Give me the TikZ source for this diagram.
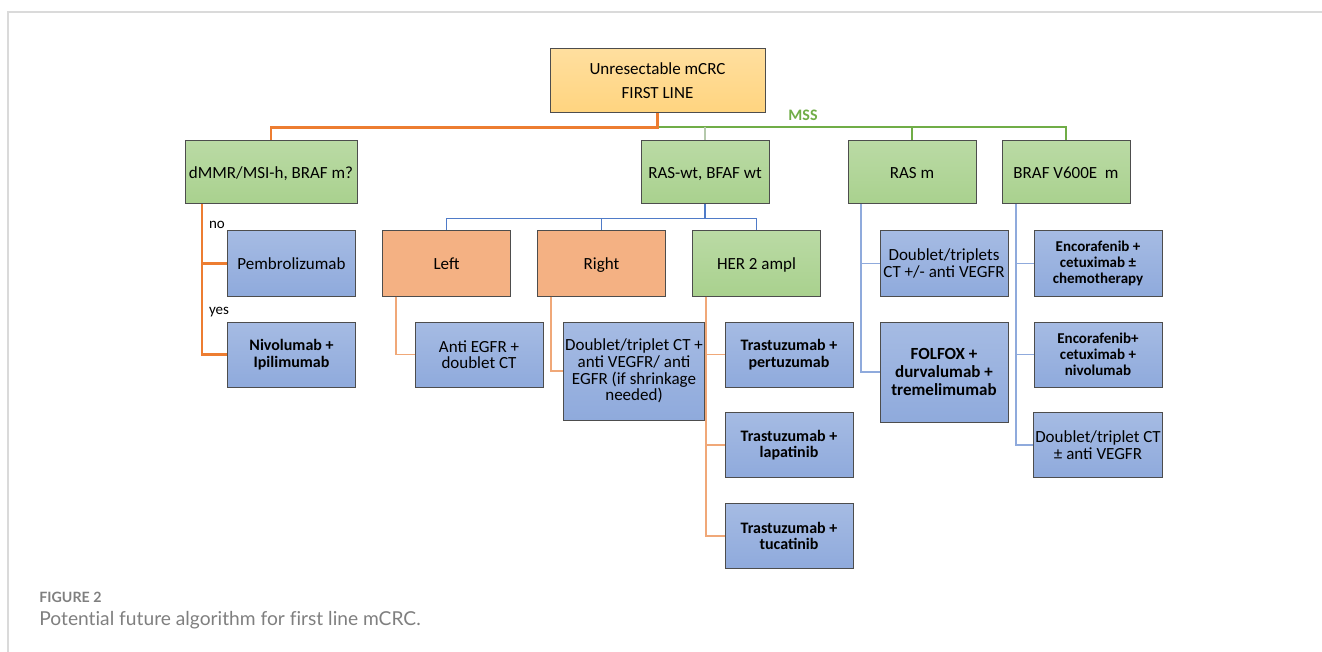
\documentclass[tikz,border=0pt]{standalone}
\usepackage{fontspec}
\setmainfont{Carlito}
\newfontfamily\captionfont[Ligatures=NoCommon]{Lato}

\definecolor{boxline}{HTML}{4D4D4D}
\definecolor{topfill}{HTML}{FFD47F}
\definecolor{greenfill}{HTML}{A9D18E}
\definecolor{bluefill}{HTML}{8FAADC}
\definecolor{peachfill}{HTML}{F4B183}
\definecolor{orangeln}{HTML}{ED7D31}
\definecolor{greenln}{HTML}{70AD47}
\definecolor{blueln}{HTML}{4F7BC8}
\definecolor{paleblueln}{HTML}{8FAADC}
\definecolor{peachln}{HTML}{F0A878}
\definecolor{paleln}{HTML}{B5C9AC}
\definecolor{framegray}{HTML}{DADADA}
\definecolor{captiongray}{HTML}{7F7F7F}

\begin{document}
\begin{tikzpicture}[x=0.5pt, y=-0.5pt,
    box/.style={draw=boxline, line width=0.5pt, inner sep=1pt, align=center,
      minimum width=64pt, minimum height=32.5pt,
      font=\fontsize{8.5}{8.3}\selectfont},
    greenbox/.style={box, top color=greenfill!80!white, bottom color=greenfill},
    bluebox/.style={box, top color=bluefill!80!white, bottom color=bluefill},
    peachbox/.style={box, fill=peachfill},
    boldbox/.style={bluebox, font=\fontsize{8}{8.3}\selectfont\bfseries},
    oneline/.style={text height=1.55ex, text depth=0.3ex},
    mainline/.style={draw=orangeln, line width=1.1pt},
    mssline/.style={draw=greenln, line width=1pt},
    splitline/.style={draw=blueln, line width=0.8pt},
    armline/.style={draw=peachln, line width=0.6pt},
    bluearm/.style={draw=paleblueln, line width=0.6pt},
    tag/.style={font=\fontsize{7.5}{7.5}\selectfont, inner sep=0pt}
  ]
  \useasboundingbox (0,0) rectangle (1322,652);
  \draw[framegray, line width=0.6pt] (8,652) |- (1322,12);

  % first split
  \node[box, top color=topfill!75!white, bottom color=topfill, minimum width=107.5pt, minimum height=32pt,
        font=\fontsize{8.5}{12}\selectfont] (top) at (657.5,81)
        {Unresectable mCRC\\FIRST LINE};
  \node[greenbox, oneline, minimum width=86pt, minimum height=31.5pt] (dmmr) at (271,172.5) {dMMR/MSI-h, BRAF m?};
  \node[greenbox, oneline, minimum height=31.5pt] (raswt) at (705,172.5) {RAS-wt, BFAF wt};
  \node[greenbox, oneline, minimum height=31.5pt] (rasm)  at (912,172.5) {RAS m};
  \node[greenbox, oneline, minimum height=31.5pt] (braf)  at (1066,172.5) {BRAF V600E\ \ m};

  % MSI-h
  \node[bluebox, oneline] (pembro) at (291.5,263.5) {Pembrolizumab};
  \node[boldbox] (nivo)   at (291.5,354.5) {Nivolumab +\\Ipilimumab};

  % RAS wild type
  \node[peachbox, oneline] (left)  at (446.5,263.5) {Left};
  \node[peachbox, oneline] (right) at (601.5,263.5) {Right};
  \node[greenbox, oneline] (her)   at (756.5,263.5) {HER 2 ampl};
  \node[bluebox] (antiegfr) at (479,354.5) {Anti EGFR +\\doublet CT};
  \node[bluebox, minimum height=49pt] (dbright) at (634,371)
        {Doublet/triplet CT +\\anti VEGFR/ anti\\EGFR (if shrinkage\\needed)};
  \node[boldbox] (pertu) at (789,354.5) {Trastuzumab +\\pertuzumab};
  \node[boldbox] (lapa)  at (789,445)   {Trastuzumab +\\lapatinib};
  \node[boldbox] (tuca)  at (789,536)   {Trastuzumab +\\tucatinib};

  % RAS mutant
  \node[bluebox, font=\fontsize{8.5}{8.8}\selectfont] (dbrasm) at (944,263.5) {Doublet/triplets\\CT +/- anti VEGFR};
  \node[boldbox, minimum height=50pt, font=\fontsize{8.5}{8.8}\selectfont\bfseries] (folfox) at (944,372)
        {FOLFOX +\\durvalumab +\\tremelimumab};

  % BRAF
  \node[boldbox, font=\fontsize{7.5}{8}\selectfont\bfseries] (enco1) at (1098,263.5)
        {Encorafenib +\\cetuximab ±\\chemotherapy};
  \node[boldbox, font=\fontsize{7.5}{8}\selectfont\bfseries] (enco2) at (1098,354.5)
        {Encorafenib+\\cetuximab +\\nivolumab};
  \node[bluebox] (dbbraf) at (1098,445) {Doublet/triplet CT\\± anti VEGFR};

  % connectors from the top box
  \draw[mssline] (top.south) ++(0,14) coordinate (split) -| (braf.north);
  \draw[mssline] (split -| rasm.north) -- (rasm.north);
  \draw[draw=paleln, line width=0.6pt] (split -| raswt.north) -- (raswt.north);
  \draw[mainline] (top.south) -- (split) -| (dmmr.north);
  \node[text=greenln, font=\fontsize{8}{8}\selectfont\bfseries] (mss) at (803,115) {MSS};

  \draw[mainline] ([xshift=-34.5pt]dmmr.south) coordinate (dtrunk) |- (nivo.west);
  \draw[mainline] (dtrunk |- pembro.west) -- (pembro.west);
  \node[tag] (no)  at (217,225) {no};
  \node[tag] (yes) at (219,312) {yes};

  \draw[splitline] (raswt.south) -- ++(0,14) coordinate (rsplit) -| (left.north);
  \draw[splitline] (rsplit) -| (her.north);
  \draw[splitline] (rsplit -| right.north) -- (right.north);

  \draw[armline] ([xshift=-25.25pt]left.south) |- (antiegfr.west);
  \draw[armline] ([xshift=-25.25pt]right.south) |- (dbright.west);
  \draw[armline] ([xshift=-25.25pt]her.south) coordinate (htrunk) |- (tuca.west);
  \draw[armline] (htrunk |- pertu.west) -- (pertu.west);
  \draw[armline] (htrunk |- lapa.west) -- (lapa.west);

  \draw[bluearm] ([xshift=-25.5pt]rasm.south) coordinate (mtrunk) |- (folfox.west);
  \draw[bluearm] (mtrunk |- dbrasm.west) -- (dbrasm.west);
  \draw[bluearm] ([xshift=-25pt]braf.south) coordinate (btrunk) |- (dbbraf.west);
  \draw[bluearm] (btrunk |- enco1.west) -- (enco1.west);
  \draw[bluearm] (btrunk |- enco2.west) -- (enco2.west);

  % caption
  \node[anchor=west, inner sep=0pt, text=captiongray, font=\captionfont\fontsize{7.1}{7.1}\selectfont\bfseries]
        (fig) at (39,597) {FIGURE 2};
  \node[anchor=west, inner sep=0pt, text=captiongray, font=\captionfont\fontsize{9.6}{9.6}\selectfont]
        (cap) at (39,620) {Potential future algorithm for first line mCRC.};
\end{tikzpicture}
\end{document}
